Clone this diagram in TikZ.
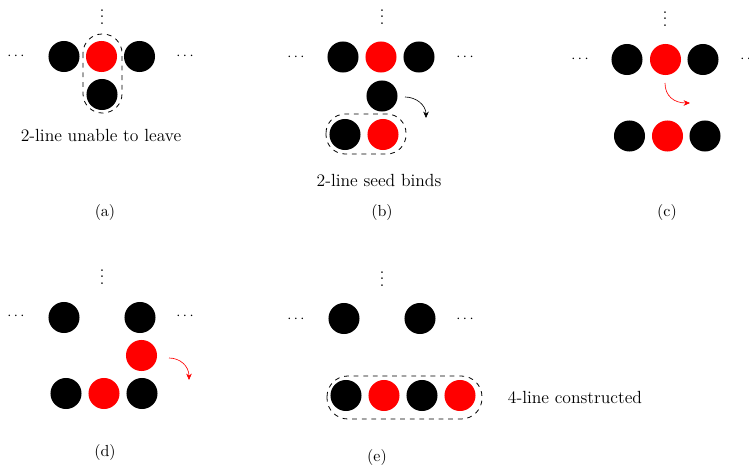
\documentclass[tikz,border=0pt]{standalone}
\usetikzlibrary{arrows.meta}
\tikzset{
  blk/.style={circle,fill=black,inner sep=0pt,minimum size=19.4pt},
  rd/.style={circle,fill=red,inner sep=0pt,minimum size=19.4pt},
  grp/.style={dashed,line width=0.5pt,rounded corners=12pt},
  lbl/.style={font=\fontsize{11}{13}\selectfont},
  dts/.style={inner sep=0pt,font=\small},
  vdts/.style={inner sep=0pt},
  mv/.style={-{Stealth[length=4pt,width=3.5pt]}},
}
\begin{document}
\begin{tikzpicture}[x=0.625pt,y=-0.625pt]
        \useasboundingbox (0,0) rectangle (749,469);
        % (a)
        \node[vdts] (av) at (102,12) {$\vdots$};
        \node[dts] (al) at (16,56) {$\cdots$};
        \node[dts] (ar) at (185,56) {$\cdots$};
        \node[blk] (a1) at (64,56.5) {};
        \node[rd] (a2) at (101.5,56.5) {};
        \node[blk] (a3) at (139.5,56.5) {};
        \node[blk] (a4) at (102,94.5) {};
        \draw[grp] (83,34) rectangle (122,113);
        \node[lbl] (at) at (101,135) {2-line unable to leave};
        \node (ac) at (105,212) {(a)};
        % (b)
        \node[vdts] (bv) at (382,12) {$\vdots$};
        \node[dts] (bl) at (296,57) {$\cdots$};
        \node[dts] (br) at (465,57) {$\cdots$};
        \node[blk] (b1) at (343,57) {};
        \node[rd] (b2) at (381,57) {};
        \node[blk] (b3) at (419,57) {};
        \node[blk] (b4) at (382,96) {};
        \node[blk] (b5) at (345,134.5) {};
        \node[rd] (b6) at (383,134.5) {};
        \draw[grp] (326,114) rectangle (406,154);
        \coordinate (bs) at (405,97);
        \coordinate (be) at (426,118);
        \draw[mv] (bs) .. controls (416,97) and (426,105) .. (be);
        \node[lbl] (bt) at (379,180) {2-line seed binds};
        \node (bc) at (382,212) {(b)};
        % (c)
        \node[vdts] (cv) at (665,14) {$\vdots$};
        \node[dts] (cl) at (580,59) {$\cdots$};
        \node[dts] (cr) at (749,59) {$\cdots$};
        \node[blk] (c1) at (627,59.5) {};
        \node[rd] (c2) at (665.5,59.5) {};
        \node[blk] (c3) at (703,59.5) {};
        \node[blk] (c4) at (629.5,136) {};
        \node[rd] (c5) at (667.5,136) {};
        \node[blk] (c6) at (705,136) {};
        \coordinate (cs) at (665,83);
        \coordinate (ce) at (690,103);
        \draw[mv,red] (cs) .. controls (665,96) and (674,103) .. (ce);
        \node (cc) at (667,212) {(c)};
        % (d)
        \node[vdts] (dv) at (102,272) {$\vdots$};
        \node[dts] (dl) at (16,316) {$\cdots$};
        \node[dts] (dr) at (185,316) {$\cdots$};
        \node[blk] (d1) at (64,317.5) {};
        \node[blk] (d2) at (140,317.5) {};
        \node[rd] (d3) at (141.5,355.5) {};
        \node[blk] (d4) at (66,393.5) {};
        \node[rd] (d5) at (104,393.5) {};
        \node[blk] (d6) at (142,393.5) {};
        \coordinate (ds) at (169,358);
        \coordinate (de) at (189,380);
        \draw[mv,red] (ds) .. controls (180,358) and (189,366) .. (de);
        \node (dc) at (105,452) {(d)};
        % (e)
        \node[vdts] (ev) at (382,274) {$\vdots$};
        \node[dts] (el) at (296,319) {$\cdots$};
        \node[dts] (er) at (465,319) {$\cdots$};
        \node[blk] (e1) at (344,318.5) {};
        \node[blk] (e2) at (420,318.5) {};
        \node[blk] (e3) at (346,395.5) {};
        \node[rd] (e4) at (384,395.5) {};
        \node[blk] (e5) at (422,395.5) {};
        \node[rd] (e6) at (460,395.5) {};
        \draw[grp,rounded corners=13pt] (327,376) rectangle (482,419);
        \node[lbl] (et) at (575,397) {4-line constructed};
        \node (ec) at (377,457) {(e)};
\end{tikzpicture}
\end{document}
